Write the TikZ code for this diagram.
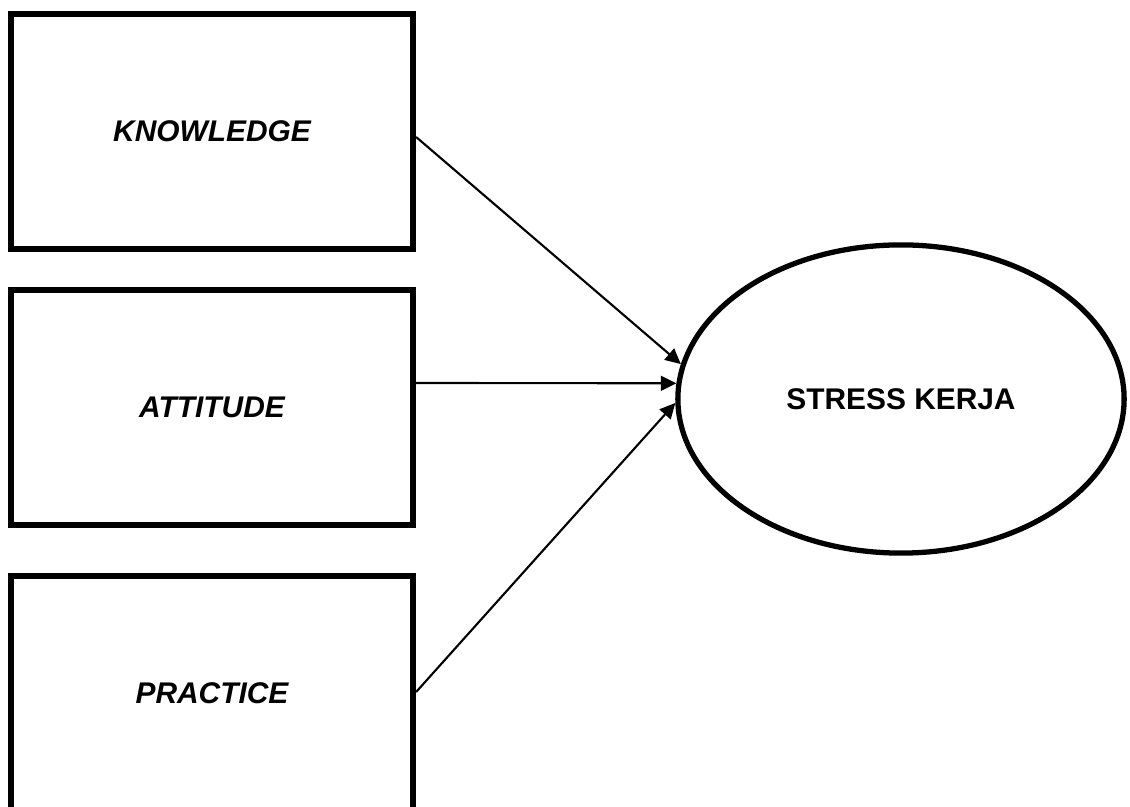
\documentclass[tikz,border=0pt]{standalone}
\usepackage{fontspec}
\setmainfont{Liberation Sans}
\usetikzlibrary{shapes.geometric,arrows.meta}
\newcommand{\lowlabel}[1]{\raisebox{-0.04cm}{#1}}
\begin{document}
\begin{tikzpicture}[x=0.01cm,y=-0.01cm,
  box/.style={draw=black,line width=1.7pt,rectangle,minimum width=4.02cm,minimum height=2.35cm,inner sep=0pt,
    font=\fontsize{8.5pt}{10pt}\selectfont\bfseries\itshape},
  target/.style={draw=black,line width=1.5pt,ellipse,minimum width=4.46cm,minimum height=3.08cm,inner sep=0pt,
    font=\fontsize{8.5pt}{10pt}\selectfont\bfseries},
  arr/.style={line width=0.6pt,-{Triangle[length=4.4pt,width=4.2pt]}}]
\useasboundingbox (0,0) rectangle (1130,807);
\clip (0,0) rectangle (1130,807);
\node[box] (k) at (212,131.5) {\lowlabel{KNOWLEDGE}};
\node[box] (a) at (212,407.5) {\lowlabel{ATTITUDE}};
\node[box] (p) at (212,693.5) {\lowlabel{PRACTICE}};
\node[target] (s) at (901,399) {\lowlabel{STRESS KERJA}};
\draw[arr] ([yshift=-0.055cm]k.east) -- (s.171.5);
\draw[arr] ([yshift=0.245cm]a.east) -- (s.176);
\draw[arr] ([yshift=0.015cm]p.east) -- (s.181.5);
\end{tikzpicture}
\end{document}
